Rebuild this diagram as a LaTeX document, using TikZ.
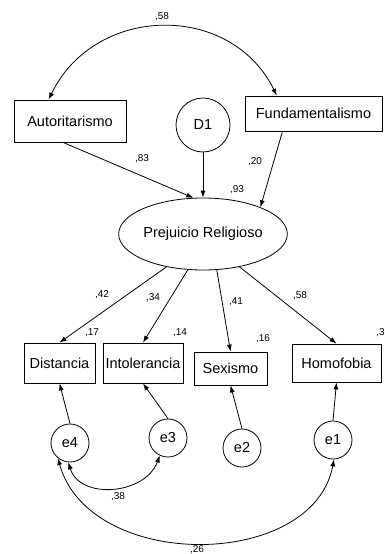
\documentclass[tikz,border=0pt]{standalone}
\usepackage{fontspec}
\setmainfont{Liberation Sans}
\usetikzlibrary{arrows.meta,shapes.geometric}

\tikzstyle{b} = [rectangle, draw, fill=none, text centered, sharp corners, inner sep=0pt, line width=0.8pt, font=\fontsize{14.5}{17}\selectfont]
\tikzstyle{c} = [circle, draw, inner sep=0pt, minimum size=38pt, line width=0.8pt, font=\fontsize{14.5}{17}\selectfont]
\tikzstyle{el} = [ellipse, draw, inner sep=0pt, minimum width=134pt, minimum height=72pt, line width=0.8pt, font=\fontsize{14.5}{17}\selectfont]
\tikzstyle{l} = [draw, line width=0.8pt, ->]
\tikzstyle{w} = [draw, line width=0.8pt, <->]
\tikzstyle{v} = [inner sep=0pt, font=\fontsize{10}{12}\selectfont]

\begin{document}
\begin{tikzpicture}[x=1pt, y=-1pt, >={Latex[length=7pt,width=5pt]}]
    \useasboundingbox (0,0) rectangle (385,554);
    % Place nodes
    \node [b, minimum width=112pt, minimum height=42pt] (auto) at (70,121) {Autoritarismo};
    \node [c, minimum size=54pt] (d1) at (203,125) {D1};
    \node [b, minimum width=137pt, minimum height=35pt] (fund) at (313.5,113.5) {Fundamentalismo};
    \node [el] (prej) at (203,234) {Prejuicio Religioso};
    \node [b, minimum width=71pt, minimum height=40pt] (dist) at (59.5,363) {Distancia};
    \node [b, minimum width=80pt, minimum height=40pt] (intol) at (143,363) {Intolerancia};
    \node [b, minimum width=73pt, minimum height=33pt] (sex) at (230.5,368.5) {Sexismo};
    \node [b, minimum width=89pt, minimum height=38pt] (homo) at (336.5,363) {Homofobia};
    \node [c] (e4) at (70,443) {e4};
    \node [c] (e3) at (168,438) {e3};
    \node [c] (e2) at (242,448) {e2};
    \node [c] (e1) at (333,440) {e1};

    % Weights
    \node [v] (wautfund) at (162,17) {,58};
    \node [v] (waut) at (142,159) {,83};
    \node [v] (wfund) at (255,162) {,20};
    \node [v] (rprej) at (237,190) {,93};
    \node [v] (wdist) at (102,295) {,42};
    \node [v] (wintol) at (153,298) {,34};
    \node [v] (wsex) at (236,302) {,41};
    \node [v] (whomo) at (300,296) {,58};
    \node [v] (rdist) at (92,333) {,17};
    \node [v] (rintol) at (180,333) {,14};
    \node [v] (rsex) at (263,339) {,16};
    \node [v, anchor=east] (rhomo) at (385,333) {,3};
    \node [v] (we4e3) at (118,497) {,38};
    \node [v] (we4e1) at (197,550) {,26};

    % Draw edges
    \path [l] (auto.252) -- (prej.105);
    \path [l] (d1) -- (prej);
    \path [l] (fund.210) -- (prej.25);
    \path [l] (prej.222) -- (dist.north);
    \path [l] (prej.247) -- (intol.north);
    \path [l] (prej.291) -- (sex.north);
    \path [l] (prej.318) -- (homo.north);
    \path [l] (e4.north) -- (dist.south);
    \path [l] (e3.north) -- (intol.south);
    \path [l] (e2.north) -- (sex.south);
    \path [l] (e1.north) -- (homo.south);

    % Covariances
    \path [w] (auto.135) .. controls (95,4) and (231,2) .. (fund.154);
    \path [w] (e4.-95) .. controls (80,500) and (145,495) .. (e3.-115);
    \path [w] (e4.231) .. controls (90,572) and (313,570) .. (e1.-87);

\end{tikzpicture}
\end{document}
